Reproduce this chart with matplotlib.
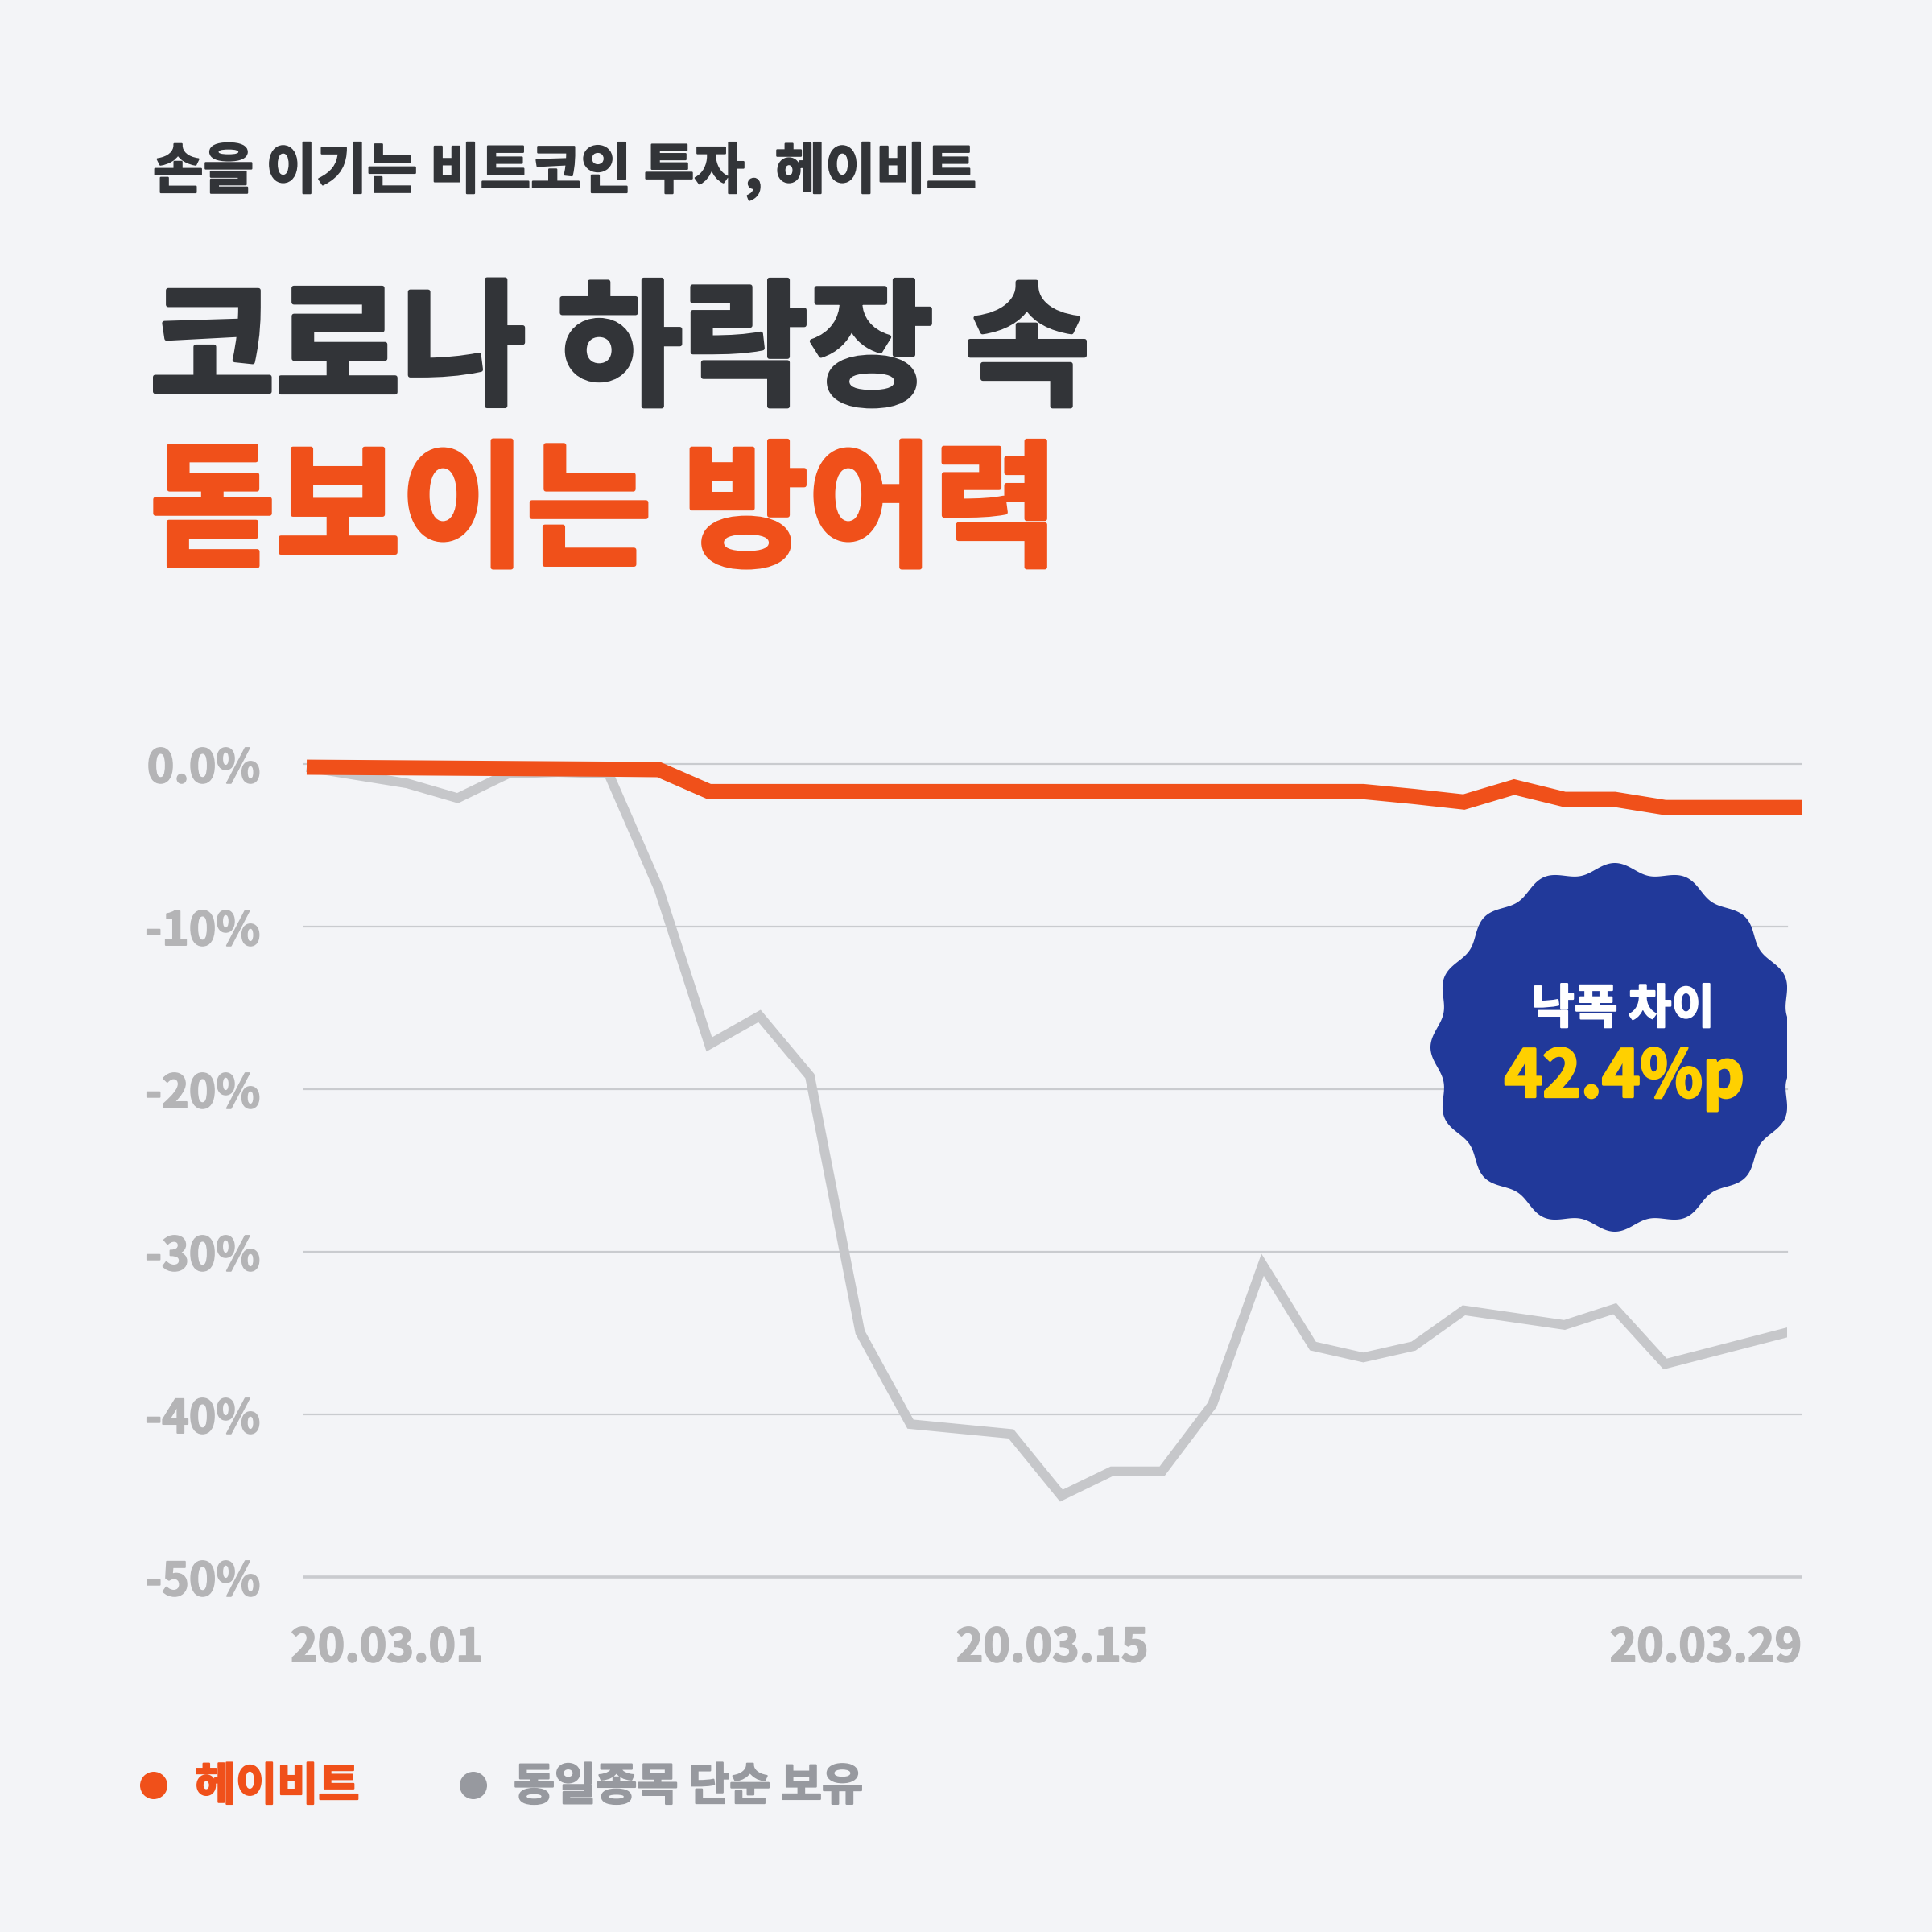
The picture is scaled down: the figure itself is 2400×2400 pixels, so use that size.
import matplotlib

matplotlib.use("Agg")
import matplotlib.patheffects as pe  # noqa: E402
import matplotlib.pyplot as plt  # noqa: E402
import numpy as np  # noqa: E402
from matplotlib.patches import Circle, Polygon, Rectangle  # noqa: E402

plt.rcParams["font.family"] = ["Noto Sans CJK KR", "DejaVu Sans"]

# ---- dati (rendimento cumulato in %, marzo 2020, un punto al giorno) ----
days = np.arange(31)
heybit = [-0.2, -0.22, -0.24, -0.26, -0.28, -0.3, -0.32, -0.35, -1.7, -1.7,
          -1.7, -1.7, -1.7, -1.7, -1.7, -1.7, -1.7, -1.7, -1.7, -1.7,
          -1.7, -1.7, -2.0, -2.34, -1.42, -2.18, -2.18, -2.68, -2.68, -2.68,
          -2.68]
hold = [-0.2, -0.7, -1.2, -2.1, -0.6, -0.5, -0.6, -7.7, -17.25, -15.5,
        -19.2, -34.95, -40.6, -40.9, -41.2, -45.0, -43.5, -43.5, -39.4, -30.8,
        -35.8, -36.5, -35.8, -33.6, -34.05, -34.5, -33.5, -36.9, -36.1, -35.3,
        -34.5]
ytick_vals = [0, -10, -20, -30, -40, -50]
ytick_labels = ["0.0%", "-10%", "-20%", "-30%", "-40%", "-50%"]
date_labels = ["20.03.01", "20.03.15", "20.03.29"]
series_names = ["헤이비트", "동일종목 단순 보유"]

BG = "#F3F4F7"
DARK = "#323438"
ORANGE = "#F0501A"
GRAY_LINE = "#C6C7CA"
GRID = "#C9CBCF"
TICK = "#B4B4B6"
LEGEND_GRAY = "#97999F"
BADGE = "#21399A"
YELLOW = "#FFD000"


def heavy(width, color):
    # ispessisce un po' il font (manca il peso Black)
    return [pe.withStroke(linewidth=width, foreground=color)]


W = 2400
fig = plt.figure(figsize=(12, 12), dpi=200, facecolor=BG)

# area del grafico in pixel
left, right, top, bottom = 376, 2238, 900, 2000
x0_px, day_px = 381, 62.5
y0_px, pct_px = 949, 20.2
clip_px = 2220

ax = fig.add_axes([left / W, 1 - bottom / W, (right - left) / W, (bottom - top) / W])
ax.set_facecolor("none")
ax.set_xlim((left - x0_px) / day_px, (right - x0_px) / day_px)
ax.set_ylim(-(bottom - y0_px) / pct_px, (y0_px - top) / pct_px)
clip_frac = (clip_px - left) / (right - left)

for v in ytick_vals:
    full = v in (0, -40, -50)
    ax.axhline(v, xmin=0, xmax=1.0 if full else clip_frac, color=GRID,
               lw=1.3 if v == -50 else 0.8, zorder=1)

(gray_line,) = ax.plot(days, hold, color=GRAY_LINE, lw=4.3,
                       solid_joinstyle="miter", solid_capstyle="butt", zorder=2)
gray_line.set_clip_path(Rectangle((0, 0), clip_frac, 1, transform=ax.transAxes))
ax.plot(days, heybit, color=ORANGE, lw=6.8, solid_joinstyle="miter",
        solid_capstyle="butt", zorder=3)

ax.set_yticks(ytick_vals)
ax.set_yticklabels(ytick_labels)
ax.tick_params(axis="y", length=0, pad=19, labelsize=20.5, labelcolor=TICK)
for t in ax.get_yticklabels():
    t.set_fontweight("bold")
    t.set_path_effects(heavy(0.7, TICK))
ax.set_xticks([])
for s in ax.spines.values():
    s.set_visible(False)

date_y = -(2047 - bottom) / (bottom - top)
for lab, xa, ha in zip(date_labels, [-0.008, 0.5, 1.0], ["left", "center", "right"]):
    ax.text(xa, date_y, lab, transform=ax.transAxes, ha=ha, va="center",
            fontsize=20.5, fontweight="bold", color=TICK, path_effects=heavy(0.7, TICK))

# livello sovrapposto in pixel per titoli, badge e legenda
ov = fig.add_axes([0, 0, 1, 1], zorder=5)
ov.set_xlim(0, W)
ov.set_ylim(W, 0)
ov.axis("off")
ov.patch.set_alpha(0)

ov.text(190, 213, "손을 이기는 비트코인 투자, 헤이비트", fontsize=24.5, fontweight="bold",
        color=DARK, ha="left", va="center", path_effects=heavy(0.8, DARK))
ov.text(186, 440, "코로나 하락장 속", fontsize=61, fontweight="bold",
        color=DARK, ha="left", va="center", path_effects=heavy(2.0, DARK))
ov.text(186, 640, "돋보이는 방어력", fontsize=61, fontweight="bold",
        color=ORANGE, ha="left", va="center", path_effects=heavy(2.0, ORANGE))

# badge ondulato
cx, cy = 2006, 1301
th = np.linspace(0, 2 * np.pi, 1441)
r = 223 + 6 * np.cos(16 * th)
badge = Polygon(np.column_stack([cx + r * np.cos(th), cy - r * np.sin(th)]),
                closed=True, facecolor=BADGE, edgecolor="none", zorder=2)
ov.add_patch(badge)
badge.set_clip_path(Rectangle((0, 0), clip_px, W, transform=ov.transData))
ov.text(2016, 1254, "낙폭 차이", fontsize=21, fontweight="bold", color="white",
        ha="center", va="center", zorder=3, path_effects=heavy(0.8, "white"))
ov.text(2018, 1339, "42.4%p", fontsize=29, fontweight="bold", color=YELLOW,
        ha="center", va="center", zorder=3, path_effects=heavy(1.2, YELLOW))

# legenda
for (dx, tx), name, col in zip([(191, 242), (588, 638)], series_names, [ORANGE, LEGEND_GRAY]):
    ov.add_patch(Circle((dx, 2218), 17, facecolor=col, edgecolor="none"))
    ov.text(tx, 2220, name, fontsize=20, fontweight="bold", color=col,
            ha="left", va="center", path_effects=heavy(0.8, col))

fig.savefig("out.png", dpi=200, facecolor=BG)
